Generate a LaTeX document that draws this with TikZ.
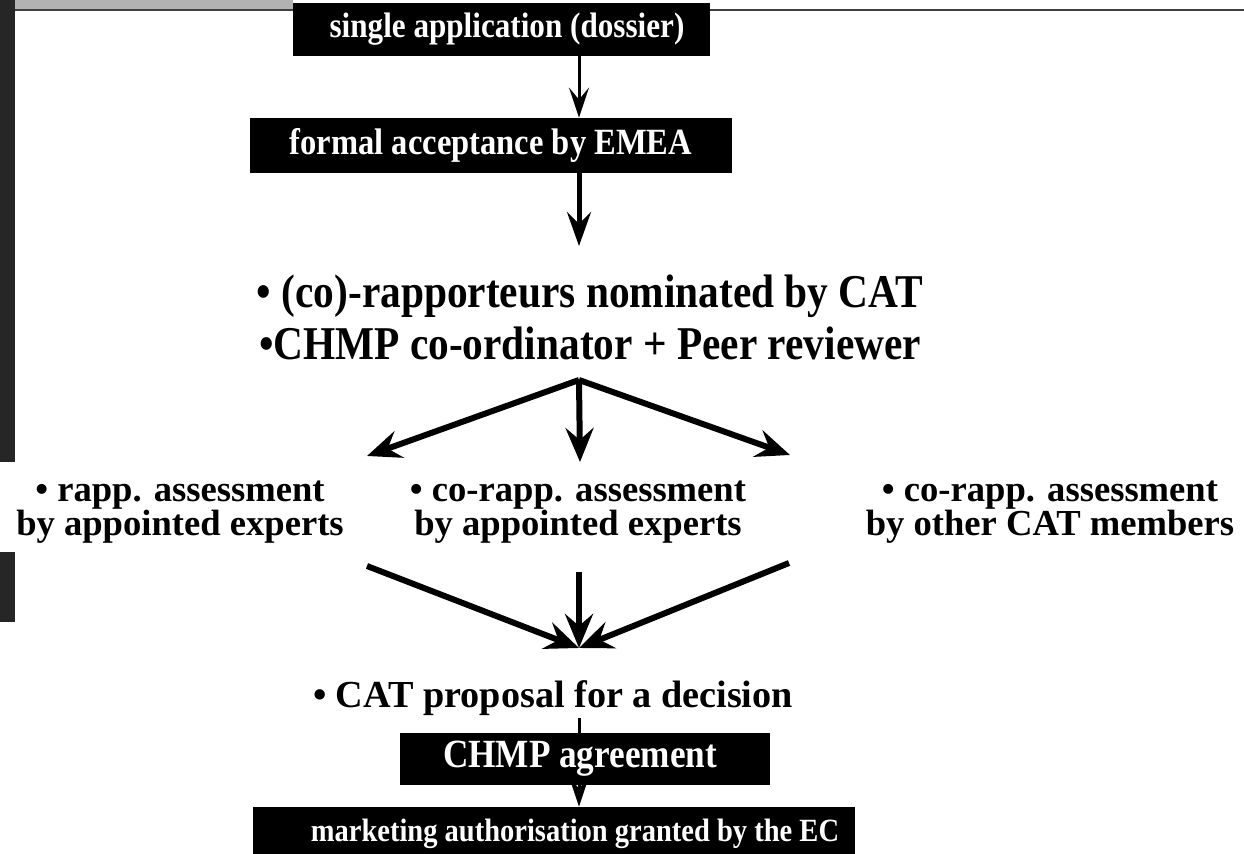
\documentclass[tikz,border=0pt]{standalone}
\usepackage{fontspec}
\setmainfont{Liberation Serif}
\newfontfamily\narrowfont[FakeStretch=0.88]{Liberation Serif}
\usetikzlibrary{arrows.meta}

\begin{document}
\begin{tikzpicture}[x=0.5pt,y=-0.5pt]
\tikzstyle{blackbox} = [rectangle, fill=black, text=white, inner sep=0pt]
\tikzstyle{bullets} = [align=center, inner sep=1pt]
\tikzstyle{fsize} = [font=\bfseries\fontsize{#1}{17pt}\selectfont]
\tikzstyle{nsize} = [font=\narrowfont\bfseries\fontsize{#1}{#1}\selectfont]
\tikzstyle{flowthin} = [draw, line width=1.5pt, -{Stealth[length=15pt,width=10pt,inset=6pt]}]
\tikzstyle{flowmid} = [draw, line width=2.5pt, -{Stealth[length=17pt,width=12pt,inset=6pt]}]
\tikzstyle{flowfat} = [draw, line width=3pt, -{Stealth[length=17pt,width=14pt,inset=6pt]}]
\useasboundingbox (0,0) rectangle (1244,854);
% scanned edges
\fill[black!85] (0,0) rectangle (15,462);
\fill[black!85] (0,552) rectangle (15,622);
\fill[black!30] (15,0) rectangle (293,9);
\draw[line width=1pt, black!75] (15,10) -- (1244,10);
% row 1
\node [blackbox, nsize=17.7, minimum width=208.5pt, minimum height=26.5pt] (single) at (501.5,29.5) {\hspace*{5.5pt}single application (dossier)};
% row 2
\node [blackbox, nsize=18.5, minimum width=241pt, minimum height=27.5pt] (formal) at (491,145.5) {formal acceptance by EMEA};
% row 3
\node [bullets, nsize=23.5] (nominate) at (590,317) {\textbullet\ (co)-rapporteurs nominated by CAT\\[2.5pt] \textbullet CHMP co-ordinator + Peer reviewer};
% row 4
\node [bullets, fsize=18.3] (rapp) at (180,512) {\textbullet\ rapp. assessment\\ by appointed experts};
\node [bullets, fsize=18.3] (corapp) at (578,512) {\textbullet\ co-rapp. assessment\\ by appointed experts};
\node [bullets, fsize=18.3] (other) at (1050,512) {\textbullet\ co-rapp. assessment\\ by other CAT members};
% row 5
\node [bullets, fsize=19.1] (proposal) at (553,698) {\textbullet\ CAT proposal for a decision};
\node [blackbox, nsize=20, minimum width=185pt, minimum height=26pt] (agree) at (585,759) {CHMP agreement\hspace*{5pt}};
\node [blackbox, nsize=16.2, minimum width=301pt, minimum height=27pt] (market) at (554,834) {\hspace*{21pt}marketing authorisation granted by the EC};
% split and join points
\coordinate (split) at (579,380);
\coordinate (join) at (579,648);
\coordinate (toRapp) at (367,456);
\coordinate (toCorapp) at (580,462);
\coordinate (toOther) at (790,455);
\coordinate (fromRapp) at (367,566);
\coordinate (fromCorapp) at (579,572);
\coordinate (fromOther) at (789,563);
\draw[flowthin] (single.south -| split) -- (formal.north -| split);
\draw[flowmid, shorten >=2pt] (formal.south -| split) -- (579,250);
\draw[flowfat] (split) -- (toRapp);
\draw[flowfat] (split) -- (toCorapp);
\draw[flowfat] (split) -- (toOther);
\draw[flowfat] (fromRapp) -- (join);
\draw[flowfat] (fromCorapp) -- (join);
\draw[flowfat] (fromOther) -- (join);
\draw[line width=1.5pt] (proposal.south -| split) -- (agree.north -| split);
\draw[flowthin] (agree.south -| split) -- (market.north -| split);
\end{tikzpicture}
\end{document}
